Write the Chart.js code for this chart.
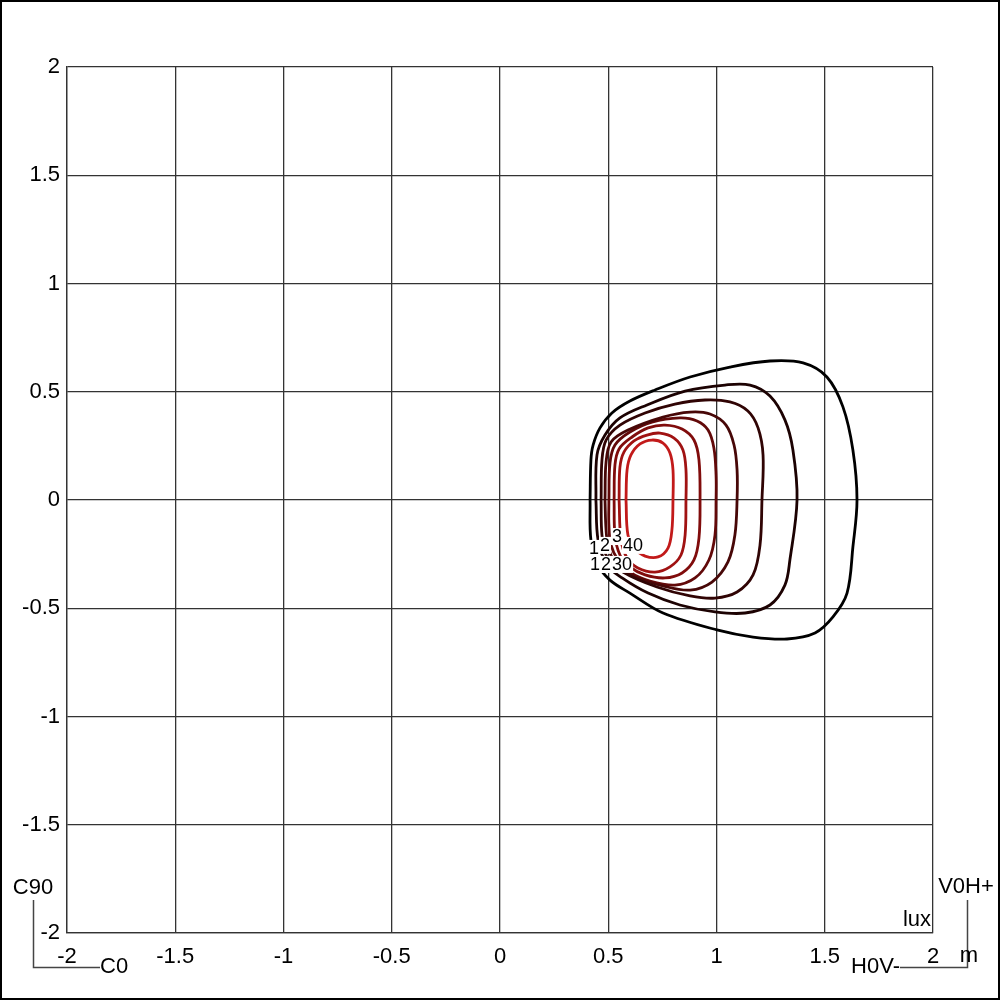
<!DOCTYPE html>
<html>
<head>
<meta charset="utf-8">
<script src="https://cdn.jsdelivr.net/npm/chart.js@4/dist/chart.umd.min.js"></script>
<style>
  html, body { margin: 0; padding: 0; background: #fff; }
  #wrap { width: 1000px; height: 1000px; }
</style>
</head>
<body>
<div id="wrap"><canvas id="isolux" width="1000" height="1000"></canvas></div>
<script>
// axis ticks (m)
var xTicks = [-2, -1.5, -1, -0.5, 0, 0.5, 1, 1.5, 2];
var yTicks = [-2, -1.5, -1, -0.5, 0, 0.5, 1, 1.5, 2];

// isolux levels, outer to inner
var levels = [1, 2, 3, 5, 10, 20, 30, 40];

// contour lines, [x, y] in m
var contour1 = [[0.416,0],[0.420,0.185],[0.430,0.254],[0.462,0.333],[0.517,0.402],[0.600,0.457],[0.716,0.508],[0.878,0.568],[1.062,0.614],[1.247,0.642],[1.400,0.633],[1.510,0.568],[1.584,0.430],[1.630,0.231],[1.649,0],[1.630,-0.217],[1.603,-0.430],[1.538,-0.540],[1.455,-0.614],[1.326,-0.642],[1.169,-0.633],[1.002,-0.600],[0.753,-0.522],[0.600,-0.430],[0.508,-0.370],[0.453,-0.300],[0.420,-0.185],[0.416,0]];
var contour2 = [[0.443,0],[0.448,0.208],[0.485,0.300],[0.554,0.379],[0.679,0.439],[0.855,0.503],[1.039,0.531],[1.155,0.531],[1.247,0.480],[1.316,0.370],[1.353,0.231],[1.372,0],[1.339,-0.277],[1.316,-0.393],[1.247,-0.485],[1.132,-0.522],[0.993,-0.517],[0.831,-0.485],[0.684,-0.430],[0.564,-0.360],[0.494,-0.300],[0.453,-0.185],[0.443,0]];
var contour3 = [[0.467,0],[0.471,0.185],[0.490,0.277],[0.554,0.346],[0.670,0.402],[0.808,0.443],[0.947,0.462],[1.062,0.453],[1.145,0.411],[1.192,0.333],[1.215,0.208],[1.210,0],[1.201,-0.208],[1.169,-0.346],[1.095,-0.425],[0.993,-0.453],[0.878,-0.443],[0.725,-0.402],[0.568,-0.333],[0.494,-0.263],[0.471,-0.162],[0.467,0]];
var contour4 = [[0.485,0],[0.490,0.176],[0.513,0.268],[0.591,0.323],[0.753,0.383],[0.878,0.406],[0.970,0.397],[1.044,0.346],[1.081,0.254],[1.095,0.139],[1.095,0],[1.085,-0.162],[1.053,-0.286],[0.979,-0.379],[0.878,-0.416],[0.753,-0.397],[0.624,-0.356],[0.545,-0.305],[0.503,-0.231],[0.490,-0.139],[0.485,0]];
var contour5 = [[0.503,0],[0.508,0.171],[0.531,0.254],[0.600,0.314],[0.702,0.360],[0.831,0.379],[0.910,0.365],[0.961,0.323],[0.988,0.240],[0.998,0.115],[0.998,0],[0.993,-0.162],[0.965,-0.277],[0.901,-0.360],[0.808,-0.393],[0.693,-0.374],[0.600,-0.333],[0.545,-0.277],[0.513,-0.208],[0.503,-0.115],[0.503,0]];
var contour6 = [[0.527,0],[0.531,0.162],[0.550,0.236],[0.610,0.291],[0.684,0.333],[0.762,0.346],[0.841,0.328],[0.896,0.277],[0.919,0.185],[0.924,0],[0.919,-0.176],[0.896,-0.277],[0.841,-0.337],[0.762,-0.360],[0.670,-0.346],[0.600,-0.309],[0.554,-0.254],[0.531,-0.162],[0.527,0]];
var contour7 = [[0.550,0],[0.554,0.152],[0.573,0.222],[0.619,0.273],[0.679,0.300],[0.739,0.309],[0.804,0.286],[0.845,0.231],[0.859,0.139],[0.859,0],[0.855,-0.162],[0.836,-0.254],[0.785,-0.309],[0.716,-0.333],[0.637,-0.314],[0.587,-0.268],[0.559,-0.185],[0.550,0]];
var contour8 = [[0.582,0],[0.587,0.139],[0.605,0.208],[0.647,0.259],[0.702,0.277],[0.753,0.263],[0.785,0.217],[0.799,0.139],[0.799,0],[0.794,-0.139],[0.776,-0.222],[0.730,-0.263],[0.670,-0.259],[0.624,-0.226],[0.591,-0.162],[0.582,0]];

var contours = [contour1, contour2, contour3, contour4, contour5, contour6, contour7, contour8];
var lineColors = ['#000000', '#1c0202', '#300404', '#470707', '#620909', '#800c0c', '#a01212', '#c21a1a'];

// contour labels (text, x, y in m) - they pile up at the lower left like in the plot
var labelText = ['10', '20', '30', '1', '2', '3', '40'];
var labelX = [0.462, 0.513, 0.564, 0.434, 0.485, 0.540, 0.614];
var labelY = [-0.300, -0.300, -0.300, -0.226, -0.212, -0.171, -0.212];

var FONT = 'Liberation Sans, Arial, sans-serif';

var datasets = contours.map(function (c, i) {
  return {
    label: levels[i] + ' lux',
    data: c.map(function (p) { return { x: p[0], y: p[1] }; }),
    showLine: true,
    borderColor: lineColors[i],
    borderWidth: 2.8,
    pointRadius: 0,
    tension: 0.35,
    fill: false
  };
});

var framePlugin = {
  id: 'frame',
  beforeDraw: function (chart) {
    var c = chart.ctx;
    c.save();
    c.fillStyle = '#fff';
    c.fillRect(0, 0, chart.width, chart.height);
    c.restore();
  },
  afterDraw: function (chart) {
    var c = chart.ctx;
    var xs = chart.scales.x, ys = chart.scales.y;
    c.save();

    // contour labels with white boxes
    c.font = '18px ' + FONT;
    c.textAlign = 'center';
    c.textBaseline = 'middle';
    for (var i = 0; i < labelText.length; i++) {
      var px = xs.getPixelForValue(labelX[i]);
      var py = ys.getPixelForValue(labelY[i]);
      var w = c.measureText(labelText[i]).width;
      c.fillStyle = '#fff';
      c.fillRect(px - w / 2 - 1, py - 9, w + 2, 17);
      c.fillStyle = '#000';
      c.fillText(labelText[i], px, py);
    }

    // corner annotations
    var a = chart.chartArea;
    c.strokeStyle = '#444';
    c.lineWidth = 1.5;
    c.beginPath();
    c.moveTo(33.5, 900); c.lineTo(33.5, 967.5); c.lineTo(100, 967.5);
    c.moveTo(967.5, 900); c.lineTo(967.5, 967.5); c.lineTo(900, 967.5);
    c.stroke();

    c.fillStyle = '#000';
    c.font = '22px ' + FONT;
    c.textBaseline = 'middle';
    c.textAlign = 'center';
    c.fillText('C90', 33, 888);
    c.fillText('V0H+', 966, 887);
    c.fillText('m', 969, 956);
    c.textAlign = 'left';
    c.fillText('C0', 100, 967);
    c.textAlign = 'right';
    c.fillText('H0V-', 900, 967);
    c.fillText('lux', a.right - 2, a.bottom - 13);

    // outer frame
    c.strokeStyle = '#000';
    c.lineWidth = 2;
    c.strokeRect(1, 1, chart.width - 2, chart.height - 2);
    c.restore();
  }
};

new Chart(document.getElementById('isolux'), {
  type: 'scatter',
  data: { datasets: datasets },
  options: {
    responsive: false,
    animation: false,
    devicePixelRatio: 1,
    layout: { padding: { top: 67, right: 67, left: 0, bottom: 0 } },
    plugins: {
      legend: { display: false },
      tooltip: { enabled: false }
    },
    scales: {
      x: {
        type: 'linear',
        min: -2,
        max: 2,
        afterBuildTicks: function (s) { s.ticks = xTicks.map(function (v) { return { value: v }; }); },
        afterFit: function (s) { s.height = 67; },
        grid: { color: '#333', lineWidth: 1.3, drawTicks: false },
        border: { color: '#333', width: 1.3 },
        ticks: {
          color: '#000',
          font: { family: FONT, size: 22 },
          padding: 11,
          maxRotation: 0,
          autoSkip: false,
          callback: function (v) { return String(v); }
        }
      },
      y: {
        type: 'linear',
        min: -2,
        max: 2,
        afterBuildTicks: function (s) { s.ticks = yTicks.map(function (v) { return { value: v }; }); },
        afterFit: function (s) { s.width = 67; },
        grid: { color: '#333', lineWidth: 1.3, drawTicks: false },
        border: { color: '#333', width: 1.3 },
        ticks: {
          color: '#000',
          font: { family: FONT, size: 22 },
          padding: 7,
          autoSkip: false,
          callback: function (v) { return String(v); }
        }
      }
    }
  },
  plugins: [framePlugin]
});
</script>
</body>
</html>
